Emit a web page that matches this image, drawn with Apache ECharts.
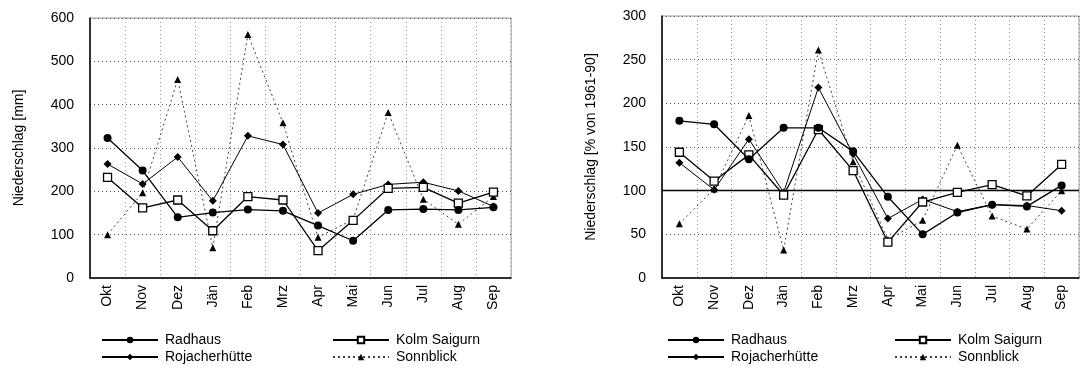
<!DOCTYPE html>
<html>
<head>
<meta charset="utf-8">
<script src="https://cdn.jsdelivr.net/npm/echarts@6/dist/echarts.min.js"></script>
<style>
  html, body { margin: 0; padding: 0; background: #fff; }
  #chart { width: 1088px; height: 369px; }
</style>
</head>
<body>
<div id="chart"></div>
<script>
// Monthly precipitation, hydrological year Okt–Sep
const months = ['Okt', 'Nov', 'Dez', 'Jän', 'Feb', 'Mrz', 'Apr', 'Mai', 'Jun', 'Jul', 'Aug', 'Sep'];

// Niederschlag in mm
const radhausMm    = [323, 248, 140, 151, 158, 155, 121,  86, 157, 159, 157, 163];
const kolmMm       = [232, 162, 180, 109, 188, 180,  63, 133, 207, 209, 173, 198];
const rojacherMm   = [263, 217, 279, 178, 328, 308, 150, 193, 216, 221, 201, 165];
const sonnblickMm  = [100, 197, 458,  70, 562, 358,  94, 135, 382, 182, 124, 188];

// Niederschlag in % des Mittels 1961-90
const radhausPct   = [180, 176, 136, 172, 172, 145,  93,  50,  75,  84,  82, 106];
const kolmPct      = [144, 111, 141,  95, 170, 123,  41,  87,  98, 107,  94, 130];
const rojacherPct  = [132, 101, 159,  98, 218, 142,  68,  90,  76,  84,  83,  77];
const sonnblickPct = [ 62, 102, 186,  32, 261, 133,  44,  66, 152,  71,  56, 100];

const mmTicks  = { min: 0, max: 600, interval: 100 };
const pctTicks = { min: 0, max: 300, interval: 50 };

const FONT = '"Liberation Sans", Arial, sans-serif';

const stations = [
  { name: 'Radhaus',       mm: radhausMm,   pct: radhausPct,   symbol: 'circle',   size: 8, fill: '#000', line: { color: '#000', width: 1.3, type: 'solid' } },
  { name: 'Kolm Saigurn',  mm: kolmMm,      pct: kolmPct,      symbol: 'rect',     size: 8, fill: '#fff', line: { color: '#000', width: 1.3, type: 'solid' } },
  { name: 'Rojacherhütte', mm: rojacherMm,  pct: rojacherPct,  symbol: 'diamond',  size: 8, fill: '#000', line: { color: '#000', width: 1,   type: 'solid' } },
  { name: 'Sonnblick',     mm: sonnblickMm, pct: sonnblickPct, symbol: 'triangle', size: 7, fill: '#000', line: { color: '#444', width: 1,   type: [2, 3] } }
];

function xAxis(gridIndex) {
  return {
    type: 'category', gridIndex, data: months, boundaryGap: true,
    axisLine: { lineStyle: { color: '#000', width: 1.5 } },
    axisTick: { show: false },
    axisLabel: { rotate: 90, color: '#000', fontFamily: FONT, fontSize: 14, margin: 7, interval: 0 },
    splitLine: { show: true, interval: 0, lineStyle: { color: '#999', type: [1, 3], width: 1 } }
  };
}

function yAxis(gridIndex, ticks, title, nameGap) {
  return {
    type: 'value', gridIndex, min: ticks.min, max: ticks.max, interval: ticks.interval,
    name: title, nameLocation: 'middle', nameGap: nameGap, nameRotate: 90,
    nameTextStyle: { color: '#000', fontFamily: FONT, fontSize: 14 },
    axisLine: { show: true, lineStyle: { color: '#000', width: 1.5 } },
    axisTick: { show: false },
    axisLabel: { color: '#000', fontFamily: FONT, fontSize: 14, margin: 16 },
    splitLine: { show: true, lineStyle: { color: '#555', type: [1, 3], width: 1 } }
  };
}

function seriesFor(key, idx) {
  return stations.map((s, i) => {
    const ser = {
      name: s.name, type: 'line', xAxisIndex: idx, yAxisIndex: idx,
      data: s[key], symbol: s.symbol, symbolSize: s.size,
      lineStyle: s.line,
      itemStyle: { color: s.fill, borderColor: '#000', borderWidth: s.fill === '#fff' ? 1.3 : 0 },
      z: 10 - i, animation: false
    };
    if (key === 'pct' && i === 0) {
      // 100 % reference line
      ser.markLine = {
        silent: true, symbol: 'none', label: { show: false },
        lineStyle: { color: '#000', type: 'solid', width: 1.3 },
        data: [{ yAxis: 100 }]
      };
    }
    return ser;
  });
}

// one legend entry per block so the two-column layout stays fixed
function legendItem(left, top, name) {
  return {
    left, top, orient: 'horizontal', padding: 0, itemWidth: 56, itemHeight: 8,
    data: [name], selectedMode: false,
    textStyle: { color: '#000', fontFamily: FONT, fontSize: 14, padding: [0, 0, 0, 2] }
  };
}

const legendRows = [333, 350];
const legendCols = [101, 332, 667, 894];

const chart = echarts.init(document.getElementById('chart'), null, { renderer: 'canvas' });
chart.setOption({
  animation: false,
  backgroundColor: '#fff',
  grid: [
    { left: 90, top: 18, width: 421, height: 260, show: true, borderWidth: 1, borderColor: '#999', backgroundColor: 'transparent' },
    { left: 662, top: 16, width: 417, height: 262, show: true, borderWidth: 1, borderColor: '#999', backgroundColor: 'transparent' }
  ],
  xAxis: [xAxis(0), xAxis(1)],
  yAxis: [
    yAxis(0, mmTicks, 'Niederschlag [mm]', 64),
    yAxis(1, pctTicks, 'Niederschlag [% von 1961-90]', 64)
  ],
  legend: [
    legendItem(legendCols[0], legendRows[0], 'Radhaus'),
    legendItem(legendCols[0], legendRows[1], 'Rojacherhütte'),
    legendItem(legendCols[1], legendRows[0], 'Kolm Saigurn'),
    legendItem(legendCols[1], legendRows[1], 'Sonnblick'),
    legendItem(legendCols[2], legendRows[0], 'Radhaus'),
    legendItem(legendCols[2], legendRows[1], 'Rojacherhütte'),
    legendItem(legendCols[3], legendRows[0], 'Kolm Saigurn'),
    legendItem(legendCols[3], legendRows[1], 'Sonnblick')
  ],
  series: [...seriesFor('mm', 0), ...seriesFor('pct', 1)]
});
</script>
</body>
</html>
